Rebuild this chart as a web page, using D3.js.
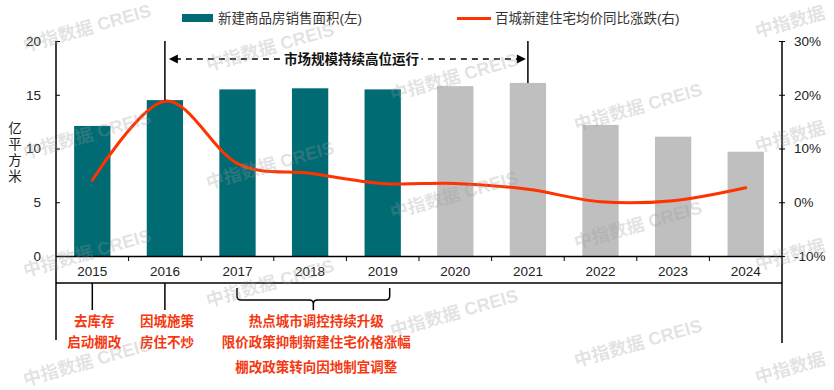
<!DOCTYPE html>
<html><head><meta charset="utf-8">
<script src="https://cdn.jsdelivr.net/npm/d3@7"></script>
<style>
body{margin:0;background:#fff;}
svg{display:block;font-family:"Liberation Sans",Arial,"Noto Sans CJK SC",sans-serif;}
</style></head>
<body>
<svg id="c" width="834" height="390"></svg>
<script>
const years = ["2015","2016","2017","2018","2019","2020","2021","2022","2023","2024"];
const salesArea = [12.1, 14.5, 15.5, 15.6, 15.5, 15.8, 16.1, 12.2, 11.1, 9.7];
const priceYoY = [4.1, 18.8, 7.2, 5.4, 3.5, 3.5, 2.4, 0.1, 0.3, 2.7];
const leftTicks = [0, 5, 10, 15, 20];
const rightTicks = [-10, 0, 10, 20, 30];
const legendLabels = ["新建商品房销售面积(左)", "百城新建住宅均价同比涨跌(右)"];
const yTitle = ["亿","平","方","米"];
const spanLabel = "市场规模持续高位运行";
const notes = [
  {from:"2015", to:"2015", lines:["去库存","启动棚改"]},
  {from:"2016", to:"2016", lines:["因城施策","房住不炒"]},
  {from:"2017", to:"2019", lines:["热点城市调控持续升级","限价政策抑制新建住宅价格涨幅","棚改政策转向因地制宜调整"]}
];
const watermark = "中指数据 CREIS";
const watermarkShort = "中指数据";

const teal = "#006b73", gray = "#bfbfbf", red = "#ff3300", noteRed = "#f5380f";
const svg = d3.select("#c");
const L = 56, R = 782, T = 41, B = 256;

const x = d3.scaleBand().domain(years).range([L, R]).paddingInner(0.5).paddingOuter(0.25);
const yL = d3.scaleLinear().domain([0, 20]).range([B, T]);
const yR = d3.scaleLinear().domain([-10, 30]).range([B, T]);
const cx = d => x(d) + x.bandwidth() / 2;

// bars
svg.append("g").selectAll("rect").data(years).join("rect")
  .attr("x", d => x(d)).attr("width", x.bandwidth())
  .attr("y", (d, i) => yL(salesArea[i]))
  .attr("height", (d, i) => yL(0) - yL(salesArea[i]))
  .attr("fill", (d, i) => i <= 4 ? teal : gray);

// line
const line = d3.line().x(d => cx(d[0])).y(d => yR(d[1])).curve(d3.curveCardinal.tension(0));
svg.append("path").datum(years.map((d, i) => [d, priceYoY[i]]))
  .attr("d", line).attr("fill", "none").attr("stroke", red).attr("stroke-width", 3)
  .attr("stroke-linecap", "round");

// left axis
const gl = svg.append("g").attr("transform", `translate(${L},0)`)
  .call(d3.axisLeft(yL).tickValues(leftTicks).tickSizeInner(-4).tickSizeOuter(0).tickPadding(15));
gl.select(".domain").remove();
gl.selectAll("line").attr("stroke", "#000");
gl.selectAll("text").attr("font-size", 13.5).attr("fill", "#222")
  .attr("font-family", "'Liberation Sans',Arial,sans-serif");
svg.append("line").attr("x1", L).attr("x2", L).attr("y1", T).attr("y2", 340)
  .attr("stroke", "#000").attr("stroke-width", 1.5);

// right axis
const gr = svg.append("g").attr("transform", `translate(${R},0)`)
  .call(d3.axisRight(yR).tickValues(rightTicks).tickFormat(d => d + "%")
    .tickSizeInner(3).tickSizeOuter(0).tickPadding(9));
gr.select(".domain").remove();
gr.selectAll("line").attr("x1", -3).attr("x2", 3).attr("stroke", "#000");
gr.selectAll("text").attr("font-size", 13.5).attr("fill", "#222")
  .attr("font-family", "'Liberation Sans',Arial,sans-serif");
svg.append("line").attr("x1", R).attr("x2", R).attr("y1", T).attr("y2", 343)
  .attr("stroke", "#000").attr("stroke-width", 1.5);

// bottom axis
const gb = svg.append("g").attr("transform", `translate(0,${B})`)
  .call(d3.axisBottom(x).tickSize(0).tickPadding(10));
gb.select(".domain").attr("stroke", "#000").attr("stroke-width", 1.5);
gb.selectAll("text").attr("font-size", 13.5).attr("fill", "#222")
  .attr("font-family", "'Liberation Sans',Arial,sans-serif");
const gap = (x.step() - x.bandwidth()) / 2;
svg.append("g").selectAll("line").data(years.slice(1)).join("line")
  .attr("x1", d => x(d) - gap).attr("x2", d => x(d) - gap)
  .attr("y1", B).attr("y2", B + 5).attr("stroke", "#000");
svg.append("line").attr("x1", L).attr("x2", R).attr("y1", 283).attr("y2", 283)
  .attr("stroke", "#000").attr("stroke-width", 1.5);

// y title
svg.append("g").selectAll("text").data(yTitle).join("text")
  .attr("x", 15).attr("y", (d, i) => 133 + i * 16).attr("text-anchor", "middle")
  .attr("font-size", 13.5).attr("fill", "#222").text(d => d);

// legend
svg.append("rect").attr("x", 182).attr("y", 14).attr("width", 31).attr("height", 8).attr("fill", teal);
svg.append("text").attr("x", 218).attr("y", 23).attr("font-size", 13.5).attr("fill", "#333").text(legendLabels[0]);
svg.append("line").attr("x1", 457).attr("x2", 491).attr("y1", 18.5).attr("y2", 18.5)
  .attr("stroke", red).attr("stroke-width", 3);
svg.append("text").attr("x", 495).attr("y", 23).attr("font-size", 13.5).attr("fill", "#333").text(legendLabels[1]);

// span annotation
const x16 = cx("2016"), x21 = cx("2021"), ay = 59;
svg.append("line").attr("x1", x16).attr("x2", x16).attr("y1", T).attr("y2", yL(salesArea[1]))
  .attr("stroke", "#000").attr("stroke-width", 1.5);
svg.append("line").attr("x1", x21).attr("x2", x21).attr("y1", T).attr("y2", yL(salesArea[6]))
  .attr("stroke", "#000").attr("stroke-width", 1.5);
svg.append("line").attr("x1", x16 + 10).attr("x2", x21 - 10).attr("y1", ay).attr("y2", ay)
  .attr("stroke", "#000").attr("stroke-width", 1.5).attr("stroke-dasharray", "6,5");
svg.append("path").attr("d", `M${x16 + 4},${ay} l9,-4.5 l0,9 z`).attr("fill", "#000");
svg.append("path").attr("d", `M${x21 - 2},${ay} l-9,-4.5 l0,9 z`).attr("fill", "#000");
const midX = (x16 + x21) / 2 + 5;
svg.append("rect").attr("x", midX - 70).attr("y", ay - 9).attr("width", 140).attr("height", 18).attr("fill", "#fff");
svg.append("text").attr("x", midX).attr("y", ay + 5).attr("text-anchor", "middle")
  .attr("font-size", 13.5).attr("font-weight", "bold").attr("fill", "#111").text(spanLabel);

// bottom notes
const noteRows = [321, 342, 367];
notes.forEach(n => {
  const a = cx(n.from), b = cx(n.to);
  let tx;
  if (n.from === n.to) {
    svg.append("line").attr("x1", a).attr("x2", a).attr("y1", 283).attr("y2", 310)
      .attr("stroke", "#000").attr("stroke-width", 1.5);
    tx = a + 2;
  } else {
    const l = a - 0.5, r = b + 7, mid = (l + r) / 2;
    svg.append("path").attr("fill", "none").attr("stroke", "#000").attr("stroke-width", 1.5)
      .attr("d", `M${l},288 L${l},296 Q${l},300 ${l + 4},300 L${mid - 4},300 Q${mid},300 ${mid},304 L${mid},310 M${mid},304 Q${mid},300 ${mid + 4},300 L${r - 4},300 Q${r},300 ${r},296 L${r},288`);
    tx = mid + 3;
  }
  n.lines.forEach((t, i) => {
    svg.append("text").attr("x", tx).attr("y", noteRows[i] + 5).attr("text-anchor", "middle")
      .attr("font-size", 13.5).attr("font-weight", "bold").attr("fill", noteRed).text(t);
  });
});

// watermarks (kept inside the frame)
const wm = [];
const cols = [20, 203, 387, 571, 754];
for (let i = 0; i < 5; i++) {
  for (let j = -1; j < 4; j++) {
    const short = i === 4;
    const xc = cols[i] + (short ? 36 : 67);
    let yc = 17 + 30 * i + 118 * j;
    const lo = short ? 22 : 28, hi = short ? 368 : 362;
    if (yc < 5 || yc > 385) continue;
    yc = Math.max(lo, Math.min(hi, yc));
    wm.push({x: xc, y: yc, t: short ? watermarkShort : watermark});
  }
}
svg.append("g").selectAll("text").data(wm).join("text")
  .attr("transform", d => `translate(${d.x},${d.y}) rotate(-16)`)
  .attr("text-anchor", "middle").attr("dy", "0.35em")
  .attr("font-size", 18).attr("font-weight", "bold").attr("fill", "#999").attr("fill-opacity", 0.28)
  .text(d => d.t);
</script>
</body></html>
